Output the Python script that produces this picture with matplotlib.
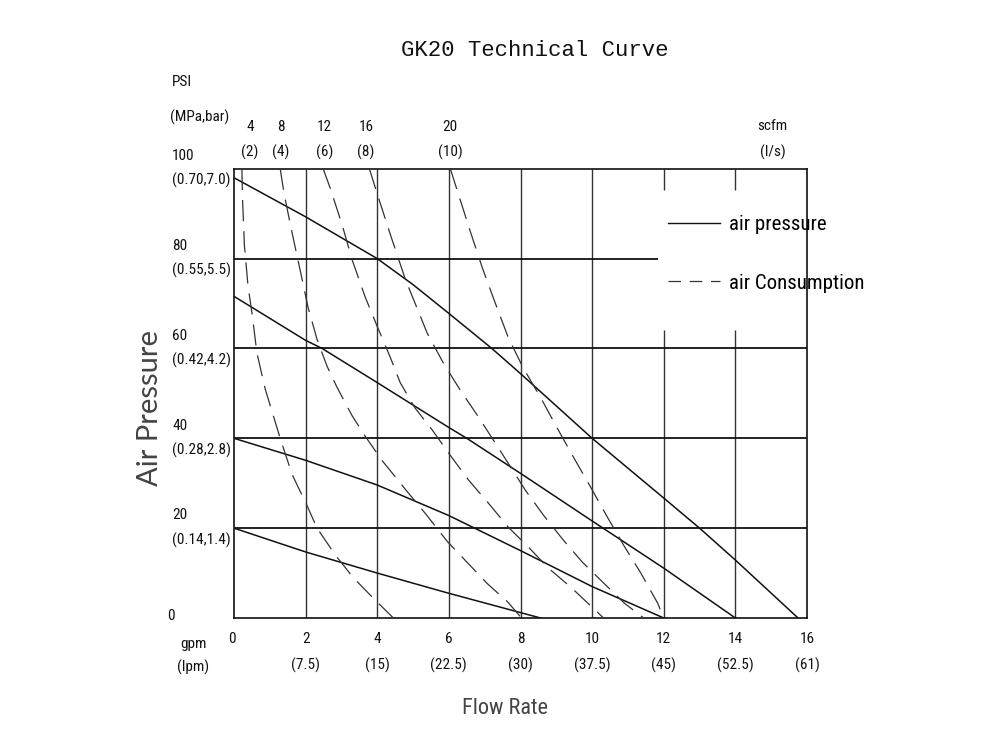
import matplotlib
matplotlib.use("Agg")
import matplotlib.pyplot as plt
from matplotlib import font_manager
from matplotlib.transforms import blended_transform_factory

# values
flow_gpm = [0, 2, 4, 6, 8, 10, 12, 14, 16]
flow_lpm = ["", "(7.5)", "(15)", "(22.5)", "(30)", "(37.5)", "(45)", "(52.5)", "(61)"]
pressure_psi = [100, 80, 60, 40, 20, 0]
pressure_metric = ["(0.70,7.0)", "(0.55,5.5)", "(0.42,4.2)", "(0.28,2.8)", "(0.14,1.4)", ""]
air_scfm = ["4", "8", "12", "16", "20"]
air_ls = ["(2)", "(4)", "(6)", "(8)", "(10)"]
air_label_x = [0.45, 1.31, 2.52, 3.69, 6.04]

# air pressure curves (solid), psi vs gpm
p100_x = [0, 2, 4, 5, 6, 7.2, 8, 10, 12, 13, 14, 15.75]
p100_y = [98, 89.3, 80, 74.2, 67.8, 60, 54.4, 40, 26.7, 20, 12.9, 0]
p70_x = [0, 2, 2.46, 4, 6, 6.5, 8, 10, 12, 14]
p70_y = [71.6, 61.8, 60, 52.4, 42.4, 40, 32.2, 21.6, 11.1, 0]
p40_x = [0, 2, 4, 6, 8, 10, 12]
p40_y = [40, 35.1, 29.6, 22.8, 15, 7, 0]
p20_x = [0, 2, 4, 6, 8, 8.56]
p20_y = [20, 14.7, 10, 5.5, 1.2, 0]

# air consumption curves (dashed)
c4_x = [0.22, 0.24, 0.29, 0.39, 0.5, 0.64, 0.87, 1.29, 1.62, 2.04, 2.32, 2.83, 3.33, 3.89, 4.45]
c4_y = [100, 93, 83, 74, 68, 59, 51, 40, 32, 25, 20, 14, 9, 4.4, 0]
c8_x = [1.29, 1.4, 1.62, 1.85, 2.07, 2.32, 2.6, 2.88, 3.3, 3.66, 4.14, 4.81, 5.37, 5.96, 6.52, 7.08, 7.64, 8.03]
c8_y = [100, 94.4, 85.8, 77.3, 69.1, 62, 56, 51.3, 45, 40.5, 35, 28.4, 23, 17, 12.3, 7.6, 3.6, 0]
c12_x = [2.49, 2.69, 3.02, 3.3, 3.66, 4.0, 4.36, 4.64, 5.05, 5.54, 6.04, 6.55, 7.1, 7.66, 8.22, 8.78, 9.4, 10.0, 10.32]
c12_y = [100, 95.6, 87.5, 79.7, 71.5, 64.9, 58.1, 52.4, 46.8, 41.8, 36.2, 30.7, 25.6, 20.2, 15.8, 11.1, 6.9, 2.4, 0]
c16_x = [3.78, 4.0, 4.36, 4.78, 5.4, 5.85, 6.32, 6.83, 7.3, 7.66, 8.14, 8.64, 9.2, 9.73, 10.32, 10.9, 11.44]
c16_y = [100, 94.4, 85.5, 75.5, 63.3, 56.7, 50.7, 44.7, 38.9, 34.4, 28.4, 22.9, 17.3, 12.4, 7.8, 3.3, 0]
c20_x = [6.04, 6.32, 6.6, 6.94, 7.3, 7.66, 8.08, 8.56, 9.03, 9.5, 9.96, 10.43, 10.88, 11.36, 11.83, 12.0]
c20_y = [100, 93, 86, 77.8, 70, 62.4, 55.6, 49.1, 42.2, 35.5, 29.1, 22.4, 16.2, 10, 3.3, 0]


def pick(*cands):
    names = {f.name for f in font_manager.fontManager.ttflist}
    for c in cands:
        if c in names:
            return c
    return "DejaVu Sans"


narrow = pick("Roboto Condensed", "Liberation Sans Narrow", "Open Sans Condensed", "Roboto", "Liberation Sans")
mono = pick("Liberation Mono", "DejaVu Sans Mono")
round_font = pick("Lato", "Open Sans", "DejaVu Sans")
ink = "#111111"

fig = plt.figure(figsize=(10, 7.5), dpi=100)
ax = fig.add_axes([0.234, 0.176, 0.573, 0.599])
ax.set_xlim(0, 16)
ax.set_ylim(0, 100)
ax.set_xticks([])
ax.set_yticks([])
for spine in ax.spines.values():
    spine.set_color(ink)
    spine.set_linewidth(1.2)

# grid, partly left open for the legend
ax.vlines(flow_gpm[1:6], 0, 100, color="#333333", lw=1.0, zorder=1)
ax.vlines(flow_gpm[6:8], 95.2, 100, color="#333333", lw=1.0, zorder=1)
ax.vlines(flow_gpm[6:8], 0, 64.2, color="#333333", lw=1.0, zorder=1)
ax.hlines([20, 40, 60], 0, 16, color=ink, lw=1.3, zorder=1)
ax.hlines(80, 0, 11.83, color=ink, lw=1.3, zorder=1)

for xs, ys in [(p100_x, p100_y), (p70_x, p70_y), (p40_x, p40_y), (p20_x, p20_y)]:
    ax.plot(xs, ys, color=ink, lw=1.1, zorder=3)
for xs, ys in [(c4_x, c4_y), (c8_x, c8_y), (c12_x, c12_y), (c16_x, c16_y), (c20_x, c20_y)]:
    ax.plot(xs, ys, color="#333333", lw=0.9, ls=(0, (17, 8)), zorder=3)

h1, = ax.plot([], [], color=ink, lw=1.0)
h2, = ax.plot([], [], color="#333333", lw=0.9, ls=(0, (10, 7)))
ax.legend([h1, h2], ["air pressure", "air Consumption"], loc="upper left",
          bbox_to_anchor=(0.758, 0.897), frameon=False, handlelength=2.5,
          handletextpad=0.4, labelspacing=1.9, borderpad=0, borderaxespad=0,
          prop={"family": narrow, "size": 15})

# y labels
ty = blended_transform_factory(ax.transAxes, ax.transData)
for p, m in zip(pressure_psi, pressure_metric):
    if m:
        ax.text(-0.108, p, f"{p}\n{m}", transform=ty, ha="left", va="center",
                fontsize=11, family=narrow, linespacing=1.85, color=ink)
    else:
        ax.text(-0.117, p + 0.5, f"{p}", transform=ty, ha="left", va="center",
                fontsize=11, family=narrow, color=ink)

# x labels
tx = blended_transform_factory(ax.transData, ax.transAxes)
for g, l in zip(flow_gpm, flow_lpm):
    txt = f"{g}\n{l}" if l else f"{g}"
    ax.text(g - 0.05 if g == 0 else g, -0.031, txt, transform=tx, ha="center", va="top",
            fontsize=11, family=narrow, linespacing=2.0, color=ink)

# air consumption labels on top
for xl, s, l in zip(air_label_x, air_scfm, air_ls):
    ax.text(xl, 1.02, f"{s}\n{l}", transform=tx, ha="center", va="bottom",
            fontsize=11, family=narrow, linespacing=1.85, color=ink)
ax.text(15.04, 1.02, "scfm\n(l/s)", transform=tx, ha="center", va="bottom",
        fontsize=11, family=narrow, linespacing=2.0, color=ink)

fig.text(0.172, 0.891, "PSI", ha="left", va="center", fontsize=11, family=narrow, color=ink)
fig.text(0.170, 0.843, "(MPa,bar)", ha="left", va="center", fontsize=11, family=narrow, color=ink)
fig.text(0.193, 0.125, "gpm\n(lpm)", ha="center", va="center", fontsize=11, family=narrow,
         linespacing=1.75, color=ink)

fig.text(0.535, 0.932, "GK20 Technical Curve", ha="center", va="center",
         fontsize=16, family=mono, color=ink)
fig.text(0.150, 0.456, "Air Pressure", ha="center", va="center", rotation=90,
         fontsize=21, family=round_font, color="#444444")
fig.text(0.505, 0.056, "Flow Rate", ha="center", va="center",
         fontsize=16, family=narrow, color="#444444")

fig.savefig("out.png", dpi=100)
